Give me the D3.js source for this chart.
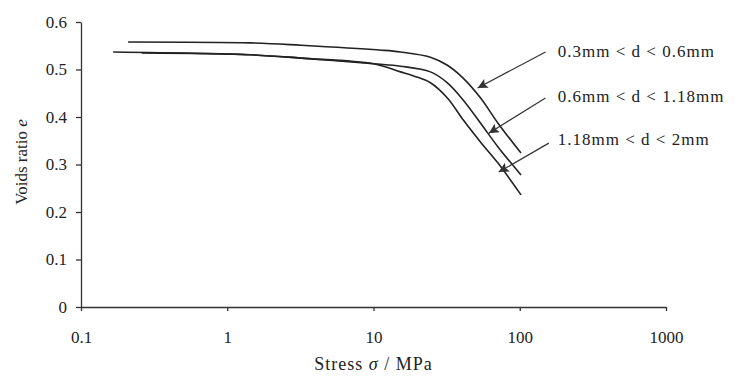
<!DOCTYPE html>
<html>
<head>
<meta charset="utf-8">
<script src="https://cdn.jsdelivr.net/npm/d3@7"></script>
<style>
body { margin: 0; background: #fff; }
svg text { font-family: "Liberation Serif", "Times New Roman", serif; fill: #222; }
.axis path, .axis line { stroke: #333; stroke-width: 1.3px; }
.curve { fill: none; stroke: #222; stroke-width: 1.6px; }
.arrow { stroke: #333; stroke-width: 1.2px; }
</style>
</head>
<body>
<script>
// curves: stress in MPa, voids ratio e
var stressA = [0.21, 1.44, 3.2, 11, 15.3, 24.5, 32, 41, 54, 71, 102];
var voidsA  = [0.558, 0.556, 0.551, 0.541, 0.537, 0.526, 0.509, 0.482, 0.44, 0.387, 0.324];

var stressB = [0.166, 1.44, 3.2, 10, 15.3, 24.5, 32, 41, 54, 71, 102];
var voidsB  = [0.537, 0.531, 0.524, 0.512, 0.507, 0.495, 0.472, 0.436, 0.387, 0.337, 0.278];

var stressC = [0.26, 1.44, 3.2, 10, 15.3, 19, 24.5, 32, 41, 54, 71, 102];
var voidsC  = [0.535, 0.531, 0.524, 0.512, 0.495, 0.486, 0.472, 0.44, 0.394, 0.347, 0.303, 0.236];

var labels = ["0.3mm < d < 0.6mm", "0.6mm < d < 1.18mm", "1.18mm < d < 2mm"];
// arrow tail / tip, in (stress, e)
var arrowFrom = [[150, 0.537], [150, 0.44], [158, 0.345]];
var arrowTo   = [[51.5, 0.461], [61.4, 0.366], [71.8, 0.284]];
var labelAt   = [[182, 0.526], [182, 0.432], [182, 0.341]];

var xTicks = [0.1, 1, 10, 100, 1000];
var yTicks = [0, 0.1, 0.2, 0.3, 0.4, 0.5, 0.6];

var W = 735, H = 385;

var x = d3.scaleLog().domain([0.1, 1000]).range([81, 666]);
var y = d3.scaleLinear().domain([0, 0.6]).range([307, 22]);

var svg = d3.select("body").append("svg")
    .attr("width", W)
    .attr("height", H);

svg.append("defs").append("marker")
    .attr("id", "head")
    .attr("viewBox", "0 0 10 10")
    .attr("refX", 10).attr("refY", 5)
    .attr("markerWidth", 14).attr("markerHeight", 10)
    .attr("markerUnits", "userSpaceOnUse")
    .attr("orient", "auto")
  .append("path")
    .attr("d", "M0,0 L10,5 L0,10 L2,5 Z")
    .attr("fill", "#333");

// axes
var xAxis = svg.append("g")
    .attr("class", "axis")
    .attr("transform", "translate(0," + y(0) + ")")
    .call(d3.axisBottom(x).tickValues(xTicks).tickSize(4).tickSizeOuter(0)
        .tickFormat(d3.format("")));
xAxis.selectAll("text").attr("font-size", "17px").attr("y", 36).attr("dy", 0);

var yAxis = svg.append("g")
    .attr("class", "axis")
    .attr("transform", "translate(" + x(0.1) + ",0)")
    .call(d3.axisLeft(y).tickValues(yTicks).tickSize(5).tickSizeOuter(0)
        .tickFormat(d => d === 0 ? "0" : d3.format(".1f")(d)));
yAxis.selectAll("text").attr("font-size", "17px").attr("x", -14);
svg.selectAll(".axis text").attr("fill", "#222");

// curves
var line = d3.line()
    .x(d => x(d[0]))
    .y(d => y(d[1]))
    .curve(d3.curveCatmullRom.alpha(0.5));

[[stressA, voidsA], [stressB, voidsB], [stressC, voidsC]].forEach(function(s) {
    svg.append("path")
        .attr("class", "curve")
        .attr("d", line(d3.zip(s[0], s[1])));
});

// annotations
labels.forEach(function(t, i) {
    svg.append("line")
        .attr("class", "arrow")
        .attr("x1", x(arrowFrom[i][0])).attr("y1", y(arrowFrom[i][1]))
        .attr("x2", x(arrowTo[i][0])).attr("y2", y(arrowTo[i][1]))
        .attr("marker-end", "url(#head)");
    svg.append("text")
        .attr("x", x(labelAt[i][0]))
        .attr("y", y(labelAt[i][1]))
        .attr("font-size", "17px")
        .attr("letter-spacing", "1px")
        .text(t);
});

// axis titles
var xt = svg.append("text")
    .attr("x", x(10))
    .attr("y", 370)
    .attr("text-anchor", "middle")
    .attr("font-size", "18px")
    .attr("letter-spacing", "1px");
xt.append("tspan").text("Stress ");
xt.append("tspan").attr("font-style", "italic").text("σ");
xt.append("tspan").text(" / MPa");

var yt = svg.append("text")
    .attr("transform", "translate(27,162) rotate(-90)")
    .attr("text-anchor", "middle")
    .attr("font-size", "17px");
yt.append("tspan").text("Voids ratio ");
yt.append("tspan").attr("font-style", "italic").text("e");
</script>
</body>
</html>
